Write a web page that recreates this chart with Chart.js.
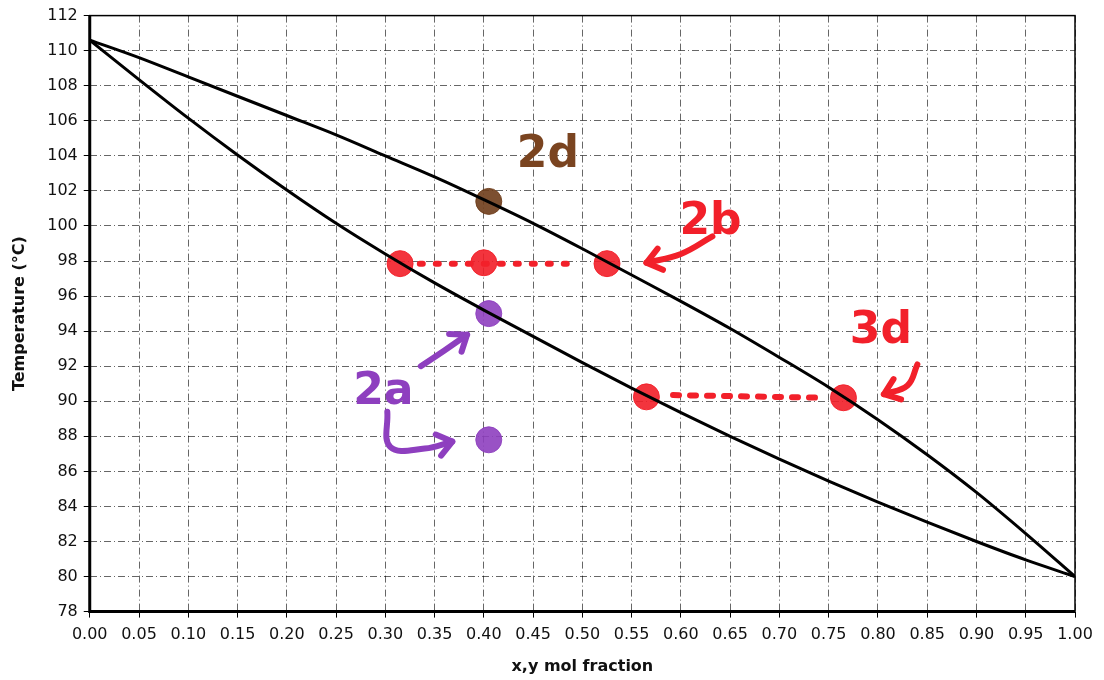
<!DOCTYPE html>
<html>
<head>
<meta charset="utf-8">
<script src="https://cdn.jsdelivr.net/npm/chart.js@4/dist/chart.umd.min.js"></script>
<style>
  html, body { margin: 0; padding: 0; background: #fff; }
  #wrap { width: 1104px; height: 680px; }
</style>
</head>
<body>
<div id="wrap"><canvas id="myChart" width="1104" height="680"></canvas></div>
<script>
// mole fraction grid and the two phase-boundary curves
const molFrac = [0, 0.05, 0.10, 0.15, 0.20, 0.25, 0.30, 0.35, 0.40, 0.45, 0.50,
                 0.55, 0.60, 0.65, 0.70, 0.75, 0.80, 0.85, 0.90, 0.95, 1.00];
const dewTemp = [110.6, 109.6, 108.5, 107.4, 106.3, 105.2, 104.0, 102.8, 101.5, 100.15, 98.7,
                 97.2, 95.7, 94.15, 92.5, 90.8, 88.95, 86.95, 84.8, 82.45, 80.0];
const bubbleTemp = [110.6, 108.35, 106.15, 104.05, 102.05, 100.15, 98.4, 96.75, 95.2, 93.7, 92.2,
                    90.75, 89.35, 88.0, 86.7, 85.45, 84.25, 83.1, 82.0, 80.95, 80.0];

// hand-drawn marks
const brownPts = [{x: 0.405, y: 101.4}];
const redPts = [{x: 0.315, y: 97.85}, {x: 0.40, y: 97.9}, {x: 0.525, y: 97.85},
                {x: 0.565, y: 90.25}, {x: 0.765, y: 90.2}];
const purplePts = [{x: 0.405, y: 95.0}, {x: 0.405, y: 87.8}];
const tieLine2b = [{x: 0.335, y: 97.85}, {x: 0.492, y: 97.85}];
const tieLine3d = [{x: 0.592, y: 90.35}, {x: 0.745, y: 90.2}];
const arrow2b = [{x: 0.632, y: 99.4}, {x: 0.60, y: 98.4}, {x: 0.565, y: 97.9}];
const arrow3d = [{x: 0.84, y: 92.1}, {x: 0.83, y: 90.9}, {x: 0.806, y: 90.4}];
const arrow2aUp = [{x: 0.336, y: 92.0}, {x: 0.36, y: 92.9}, {x: 0.383, y: 93.8}];
const arrow2aDown = [{x: 0.302, y: 89.4}, {x: 0.305, y: 87.4}, {x: 0.34, y: 87.3}, {x: 0.368, y: 87.7}];
const notes = [
  {text: '2d', x: 0.465, y: 104.0, color: '#7a4420'},
  {text: '2b', x: 0.63, y: 100.2, color: '#f2202a'},
  {text: '3d', x: 0.803, y: 94.0, color: '#f2202a'},
  {text: '2a', x: 0.298, y: 90.5, color: '#8e3fbf'}
];

const xTickStep = 0.05;
const yTickStep = 2;

function pairs(xs, ys) {
  return xs.map((x, i) => ({x: x, y: ys[i]}));
}

const frame = {
  id: 'frame',
  beforeDatasetsDraw(chart) {
    const {ctx, chartArea: a} = chart;
    ctx.save();
    ctx.strokeStyle = '#000';
    ctx.lineWidth = 1.5;
    ctx.strokeRect(a.left, a.top, a.right - a.left, a.bottom - a.top);
    ctx.lineWidth = 3;
    ctx.beginPath();
    ctx.moveTo(a.left, a.top);
    ctx.lineTo(a.left, a.bottom);
    ctx.lineTo(a.right, a.bottom);
    ctx.stroke();
    ctx.restore();
  },
  afterDatasetsDraw(chart) {
    const {ctx, scales} = chart;
    ctx.save();
    // arrowheads at the end of each hand-drawn arrow
    chart.data.datasets.forEach((ds) => {
      if (!ds.arrow) return;
      const n = ds.data.length;
      const p1 = ds.data[n - 2], p2 = ds.data[n - 1];
      const x1 = scales.x.getPixelForValue(p1.x), y1 = scales.y.getPixelForValue(p1.y);
      const x2 = scales.x.getPixelForValue(p2.x), y2 = scales.y.getPixelForValue(p2.y);
      const ang = Math.atan2(y2 - y1, x2 - x1);
      const len = 18;
      ctx.strokeStyle = ds.borderColor;
      ctx.lineWidth = 6;
      ctx.lineCap = 'round';
      ctx.lineJoin = 'round';
      ctx.beginPath();
      ctx.moveTo(x2 - len * Math.cos(ang - 0.65), y2 - len * Math.sin(ang - 0.65));
      ctx.lineTo(x2, y2);
      ctx.lineTo(x2 - len * Math.cos(ang + 0.65), y2 - len * Math.sin(ang + 0.65));
      ctx.stroke();
    });
    // handwritten labels
    ctx.textAlign = 'center';
    ctx.textBaseline = 'middle';
    ctx.font = 'bold 44px "DejaVu Sans"';
    notes.forEach((n) => {
      ctx.fillStyle = n.color;
      ctx.fillText(n.text, scales.x.getPixelForValue(n.x), scales.y.getPixelForValue(n.y));
    });
    ctx.restore();
  }
};

const gridOpts = {
  color: 'rgba(0,0,0,0.6)',
  lineWidth: 1,
  tickLength: 6,
  tickColor: '#000',
  tickWidth: 1
};

function curve(label, pts) {
  return {
    label: label,
    data: pts,
    showLine: true,
    borderColor: '#000',
    borderWidth: 3,
    pointRadius: 0,
    tension: 0.4,
    cubicInterpolationMode: 'monotone'
  };
}

function arrowLine(label, pts, color) {
  return {
    label: label, data: pts, arrow: true, showLine: true,
    borderColor: color, borderWidth: 6, borderCapStyle: 'round',
    pointRadius: 0, tension: 0.4
  };
}

function blobs(label, pts, color) {
  return {
    label: label, data: pts, pointRadius: 13,
    pointBackgroundColor: color, pointBorderColor: color
  };
}

new Chart('myChart', {
  type: 'scatter',
  data: {
    datasets: [
      curve('Dew point', pairs(molFrac, dewTemp)),
      curve('Bubble point', pairs(molFrac, bubbleTemp)),
      {
        label: 'tie 2b',
        data: tieLine2b,
        showLine: true,
        borderColor: '#f2202a',
        borderWidth: 6,
        borderDash: [3, 13],
        borderCapStyle: 'round',
        pointRadius: 0
      },
      {
        label: 'tie 3d',
        data: tieLine3d,
        showLine: true,
        borderColor: '#f2202a',
        borderWidth: 6,
        borderDash: [6, 11],
        borderCapStyle: 'round',
        pointRadius: 0
      },
      arrowLine('arrow 2b', arrow2b, '#f2202a'),
      arrowLine('arrow 3d', arrow3d, '#f2202a'),
      arrowLine('arrow 2a up', arrow2aUp, '#8e3fbf'),
      arrowLine('arrow 2a down', arrow2aDown, '#8e3fbf'),
      blobs('2d', brownPts, 'rgba(110,60,25,0.9)'),
      blobs('2b/3d', redPts, 'rgba(242,30,40,0.9)'),
      blobs('2a', purplePts, 'rgba(142,63,191,0.9)')
    ]
  },
  options: {
    responsive: false,
    animation: false,
    layout: { padding: { left: 6, right: 29, top: 9, bottom: 0 } },
    plugins: {
      legend: { display: false },
      tooltip: { enabled: false }
    },
    scales: {
      x: {
        type: 'linear',
        min: 0,
        max: 1,
        ticks: {
          stepSize: xTickStep,
          color: '#111',
          font: { family: 'DejaVu Sans', size: 16 },
          padding: 8,
          maxRotation: 0,
          autoSkip: false,
          callback: (v) => v.toFixed(2)
        },
        grid: gridOpts,
        border: { display: false, dash: [7, 3, 1, 3] },
        title: {
          display: true,
          text: 'x,y mol fraction',
          color: '#111',
          font: { family: 'DejaVu Sans', size: 16, weight: 'bold' },
          padding: { top: 4 }
        }
      },
      y: {
        type: 'linear',
        min: 78,
        max: 112,
        ticks: {
          stepSize: yTickStep,
          color: '#111',
          font: { family: 'DejaVu Sans', size: 16 },
          padding: 6,
          autoSkip: false
        },
        grid: gridOpts,
        border: { display: false, dash: [7, 3, 1, 3] },
        title: {
          display: true,
          text: 'Temperature (°C)',
          color: '#111',
          font: { family: 'DejaVu Sans', size: 16, weight: 'bold' },
          padding: { bottom: 12 }
        }
      }
    }
  },
  plugins: [frame]
});
</script>
</body>
</html>
